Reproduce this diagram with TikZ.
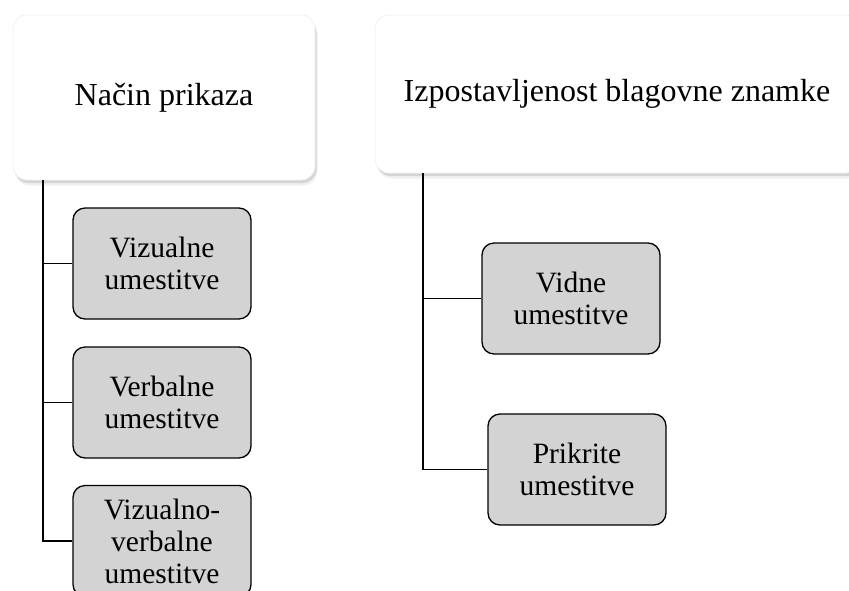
\documentclass[tikz,border=0pt]{standalone}
\usepackage{fontspec}
\setmainfont{Liberation Serif}
\usetikzlibrary{shadows}
\definecolor{boxgray}{RGB}{211,211,211}
\begin{document}
\begin{tikzpicture}[x=1pt,y=-1pt,
	headbox/.style = {draw=black!6, line width=.8pt, fill=white, rounded corners=14pt, inner sep=0pt, align=center,
		font=\fontsize{32}{36}\selectfont,
		drop shadow={opacity=.12, shadow xshift=2.5pt, shadow yshift=-5.5pt},
		drop shadow={opacity=.25, shadow xshift=1.5pt, shadow yshift=-3pt}},
	itembox/.style = {draw=black, line width=1.3pt, fill=boxgray, rounded corners=12pt, inner sep=0pt,
		align=center, minimum width=178pt, minimum height=111pt,
		font=\fontsize{29.5}{32}\selectfont},
	link/.style = {line width=1.8pt}]
	\useasboundingbox (0,0) rectangle (849,590);
	\clip (0,0) rectangle (849,590);

	\node [headbox, minimum width=302pt, minimum height=165pt] (nacin) at (164,97.5) {Način prikaza};
	\node [headbox, minimum width=484pt, minimum height=158pt] (izpost) at (617,94) {Izpostavljenost blagovne znamke};

	\node [itembox] (vizualne) at (162,263.5) {Vizualne\\umestitve};
	\node [itembox] (verbalne) at (162,402.5) {Verbalne\\umestitve};
	\node [itembox] (vizverb) at (162,541) {Vizualno-\\verbalne\\umestitve};

	\node [itembox] (vidne) at (571,298.5) {Vidne\\umestitve};
	\node [itembox] (prikrite) at (577,469.5) {Prikrite\\umestitve};

	\coordinate (trunkL) at (43,0);
	\coordinate (trunkR) at (423,0);

	\draw [link] (trunkL |- nacin.south) |- (vizualne.west);
	\draw [link] (trunkL |- nacin.south) |- (verbalne.west);
	\draw [link] (trunkL |- nacin.south) |- (vizverb.west);

	\draw [link] (trunkR |- izpost.south) |- (vidne.west);
	\draw [link] (trunkR |- izpost.south) |- (prikrite.west);
\end{tikzpicture}
\end{document}
